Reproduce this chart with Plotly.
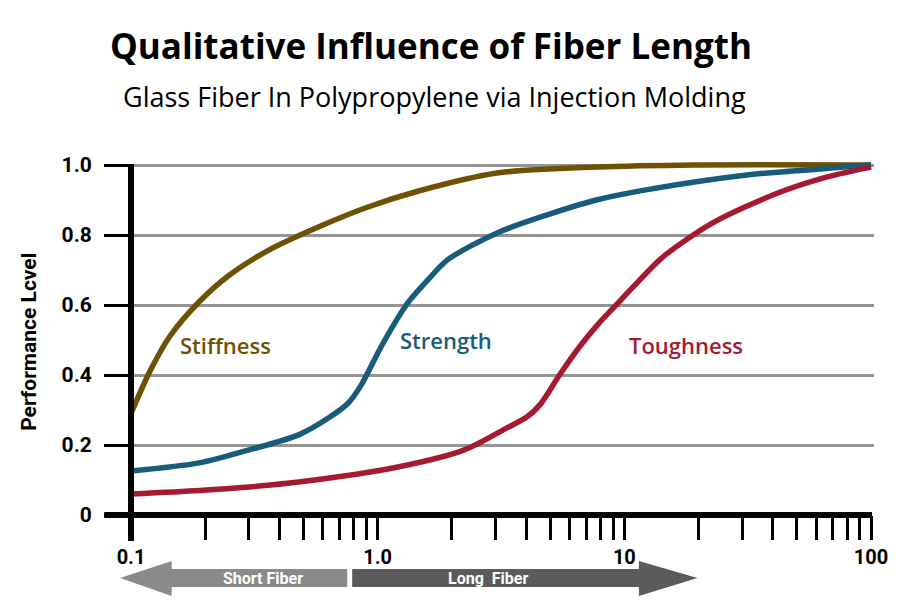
import numpy as np
import plotly.graph_objects as go

# ---------------- data ----------------
stiff_x = [0.1, 0.1192, 0.1435, 0.1895, 0.250, 0.362, 0.575, 0.914, 1.453, 3.05, 7.69, 19.42, 100]
stiff_y = [0.29, 0.41, 0.51, 0.61, 0.685, 0.757, 0.823, 0.88, 0.925, 0.977, 0.994, 1.0, 1.0]

strength_x = [0.1, 0.1895, 0.301, 0.478, 0.631, 0.760, 0.857, 1.031, 1.174, 1.324, 1.594, 1.918,
              3.05, 4.84, 7.69, 12.22, 30.85, 78.3, 100]
strength_y = [0.126, 0.149, 0.186, 0.229, 0.277, 0.32, 0.371, 0.48, 0.549, 0.606, 0.671, 0.729,
              0.806, 0.857, 0.9, 0.929, 0.971, 0.994, 1.0]

tough_x = [0.1, 0.1895, 0.301, 0.478, 1.207, 2.245, 3.343, 4.022, 4.537, 5.46, 6.57, 7.91, 9.26,
           10.83, 14.31, 22.73, 41.9, 66.5, 100]
tough_y = [0.06, 0.07, 0.08, 0.094, 0.137, 0.186, 0.249, 0.28, 0.314, 0.4, 0.48, 0.549, 0.6,
           0.651, 0.737, 0.834, 0.92, 0.966, 0.994]

series_names = ["Stiffness", "Strength", "Toughness"]
series_colors = ["#6f5104", "#175d7b", "#a51a31"]
label_pos = [(0.241, 0.486), (1.90, 0.50), (17.7, 0.486)]

x_tickvals = [0.1, 0.2, 0.3, 0.4, 0.5, 0.6, 0.7, 0.8, 0.9,
              1, 2, 3, 4, 5, 6, 7, 8, 9,
              10, 20, 30, 40, 50, 60, 70, 80, 90, 100]
x_ticktext = ["0.1", "", "", "", "", "", "", "", "",
              "1.0", "", "", "", "", "", "", "", "",
              "10", "", "", "", "", "", "", "", "", "100"]
y_tickvals = [0, 0.2, 0.4, 0.6, 0.8, 1.0]
y_ticktext = ["0", "0.2", "0.4", "0.6", "0.8", "1.0"]

title_text = "Qualitative Influence of Fiber Length"
subtitle_text = "Glass Fiber In Polypropylene via Injection Molding"
ytitle_text = "Performance Lcvel"

# ---------------- layout geometry (pixels) ----------------
W, H = 900, 613
ML, MR, MT, MB = 131, 20, 158, 98
PW = W - ML - MR
PH = H - MT - MB


def px(xp):
    return (xp - ML) / PW


def py(yp):
    return (H - MB - yp) / PH


NARROW = "Roboto, Lato, sans-serif"
SANS = "Open Sans, Noto Sans, sans-serif"

fig = go.Figure()
for xs, ys, name, col in zip([stiff_x, strength_x, tough_x],
                             [stiff_y, strength_y, tough_y],
                             series_names, series_colors):
    fig.add_trace(go.Scatter(x=xs, y=ys, mode="lines", name=name,
                             line=dict(color=col, width=5.5, shape="spline", smoothing=0.8),
                             hoverinfo="skip"))

annotations = []
for name, col, (lx, ly) in zip(series_names, series_colors, label_pos):
    annotations.append(dict(x=np.log10(lx), y=ly, xref="x", yref="y", text=name,
                            showarrow=False, font=dict(family=SANS, size=22, color=col, weight=600),
                            xanchor="center", yanchor="middle"))

annotations += [
    dict(x=px(433), y=py(45), xref="paper", yref="paper", text=title_text, showarrow=False,
         font=dict(family=SANS, size=35, color="black", weight=700), xanchor="center", yanchor="middle"),
    dict(x=px(437), y=py(97), xref="paper", yref="paper", text=subtitle_text, showarrow=False,
         font=dict(family=SANS, size=27, color="black"), xanchor="center", yanchor="middle"),
    dict(x=px(28), y=py(342), xref="paper", yref="paper", text=ytitle_text, showarrow=False,
         textangle=-90, font=dict(family=NARROW, size=21, color="black", weight=700),
         xanchor="center", yanchor="middle"),
    dict(x=px(264), y=py(578), xref="paper", yref="paper", text="Short Fiber", showarrow=False,
         font=dict(family=NARROW, size=16, color="white", weight=700), xanchor="center", yanchor="middle"),
    dict(x=px(491), y=py(578), xref="paper", yref="paper", text="Long\u00a0 Fiber", showarrow=False,
         font=dict(family=NARROW, size=16, color="white", weight=700), xanchor="center", yanchor="middle"),
]


def path(points):
    return "M " + " L ".join(f"{px(a):.5f},{py(b):.5f}" for a, b in points) + " Z"


left_arrow = [(120, 578), (172, 561), (172, 569), (349, 569), (349, 587), (172, 587), (172, 596)]
right_arrow = [(354, 569), (643, 569), (643, 561), (702, 578), (643, 596), (643, 587), (354, 587)]

shapes = [
    # y axis line (extends below x axis)
    dict(type="line", xref="paper", yref="paper", x0=0, x1=0, y0=py(164), y1=py(541),
         line=dict(color="black", width=6), layer="above"),
    # x axis line
    dict(type="line", xref="paper", yref="paper", x0=px(104), x1=px(878), y0=py(515), y1=py(515),
         line=dict(color="black", width=6), layer="above"),
    dict(type="path", xref="paper", yref="paper", path=path(left_arrow),
         fillcolor="#8a8a8a", line=dict(width=0)),
    dict(type="path", xref="paper", yref="paper", path=path(right_arrow),
         fillcolor="#5b5b5b", line=dict(width=0)),
]

fig.update_layout(
    width=W, height=H,
    margin=dict(l=ML, r=MR, t=MT, b=MB),
    paper_bgcolor="white", plot_bgcolor="white",
    showlegend=False,
    annotations=annotations,
    shapes=shapes,
    xaxis=dict(type="log", range=[-1, 2.012], tickvals=x_tickvals, ticktext=x_ticktext,
               ticks="outside", ticklen=24, tickwidth=2.5, tickcolor="black",
               showgrid=False, zeroline=False, showline=False,
               tickfont=dict(family=NARROW, size=20, color="black", weight=700),
               tickangle=0),
    yaxis=dict(range=[0, 1.02], tickvals=y_tickvals, ticktext=y_ticktext,
               ticks="outside", ticklen=26, tickwidth=3, tickcolor="black",
               showgrid=True, gridcolor="#959595", gridwidth=3, zeroline=False, showline=False,
               tickfont=dict(family=NARROW, size=21, color="black", weight=700),
               ticklabelstandoff=8),
)

fig.write_html("out.html")
